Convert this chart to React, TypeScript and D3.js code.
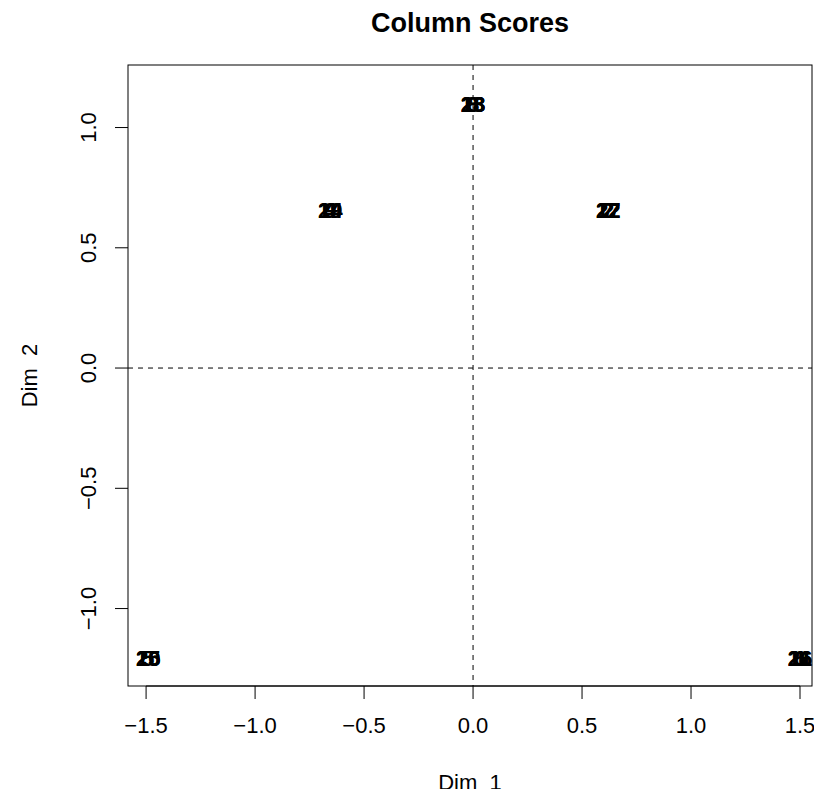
import React, { useEffect, useRef } from 'react';
import * as d3 from 'd3';

// column scores (Dim 1, Dim 2); columns share positions in groups
const labels = Array.from({ length: 28 }, (_, i) => String(i + 1));
const groupX = [1.5, 0.62, 0.0, -0.655, -1.49]; // by (label % 5): 1,2,3,4,0
const groupY = [-1.205, 0.655, 1.098, 0.655, -1.205];
const dim1 = labels.map(l => groupX[(+l - 1) % 5]);
const dim2 = labels.map(l => groupY[(+l - 1) % 5]);
const tickVals = [-1.5, -1.0, -0.5, 0.0, 0.5, 1.0, 1.5];
const yTickVals = [-1.0, -0.5, 0.0, 0.5, 1.0];

const App = () => {
  const svgRef = useRef<SVGSVGElement>(null);

  useEffect(() => {
    const svg = d3.select(svgRef.current);
    svg.selectAll('*').remove();
    const font = 'Liberation Sans, Arial, sans-serif';

    const left = 128, right = 812, top = 65, bottom = 686;
    const x = d3.scaleLinear().domain([-1.583, 1.555]).range([left, right]);
    const y = d3.scaleLinear().domain([-1.322, 1.26]).range([bottom, top]);

    // title
    svg.append('text')
      .attr('x', (left + right) / 2).attr('y', 32)
      .attr('text-anchor', 'middle')
      .style('font-family', font).style('font-size', '27px').style('font-weight', 'bold')
      .text('Column Scores');

    // reference lines
    svg.append('line')
      .attr('x1', left).attr('x2', right).attr('y1', y(0)).attr('y2', y(0))
      .attr('stroke', 'black').attr('stroke-dasharray', '5,5');
    svg.append('line')
      .attr('x1', x(0)).attr('x2', x(0)).attr('y1', top).attr('y2', bottom)
      .attr('stroke', 'black').attr('stroke-dasharray', '5,5');

    // labels
    svg.append('g').selectAll('text')
      .data(labels)
      .enter()
      .append('text')
      .attr('x', (d, i) => x(dim1[i]))
      .attr('y', (d, i) => y(dim2[i]))
      .attr('dy', '0.36em')
      .attr('text-anchor', 'middle')
      .style('font-family', font).style('font-size', '22px').style('font-weight', 'bold')
      .text(d => d);

    // box
    svg.append('rect')
      .attr('x', left).attr('y', top).attr('width', right - left).attr('height', bottom - top)
      .attr('fill', 'none').attr('stroke', 'black');

    // x axis
    const gx = svg.append('g');
    gx.append('line')
      .attr('x1', x(-1.5)).attr('x2', x(1.5)).attr('y1', bottom).attr('y2', bottom)
      .attr('stroke', 'black');
    gx.selectAll('line.tick').data(tickVals).enter().append('line')
      .attr('class', 'tick')
      .attr('x1', d => x(d)).attr('x2', d => x(d)).attr('y1', bottom).attr('y2', bottom + 13)
      .attr('stroke', 'black');
    gx.selectAll('text').data(tickVals).enter().append('text')
      .attr('x', d => x(d)).attr('y', 733)
      .attr('text-anchor', 'middle')
      .style('font-family', font).style('font-size', '22px')
      .text(d => d.toFixed(1).replace('-', '\u2212'));

    // y axis
    const gy = svg.append('g');
    gy.selectAll('line.tick').data(yTickVals).enter().append('line')
      .attr('class', 'tick')
      .attr('x1', left - 13).attr('x2', left).attr('y1', d => y(d)).attr('y2', d => y(d))
      .attr('stroke', 'black');
    gy.selectAll('text').data(yTickVals).enter().append('text')
      .attr('transform', d => `translate(96,${y(d)}) rotate(-90)`)
      .attr('text-anchor', 'middle')
      .style('font-family', font).style('font-size', '22px')
      .text(d => d.toFixed(1).replace('-', '\u2212'));

    // axis titles
    svg.append('text')
      .attr('x', (left + right) / 2).attr('y', 790)
      .attr('text-anchor', 'middle')
      .style('font-family', font).style('font-size', '22px').style('white-space', 'pre')
      .text('Dim  1');
    svg.append('text')
      .attr('transform', `translate(37,${(top + bottom) / 2}) rotate(-90)`)
      .attr('text-anchor', 'middle')
      .style('font-family', font).style('font-size', '22px').style('white-space', 'pre')
      .text('Dim  2');
  }, []);

  return (
    <svg ref={svgRef} width={822} height={797} style={{ display: 'block', margin: -8 }}></svg>
  );
};

export default App;
